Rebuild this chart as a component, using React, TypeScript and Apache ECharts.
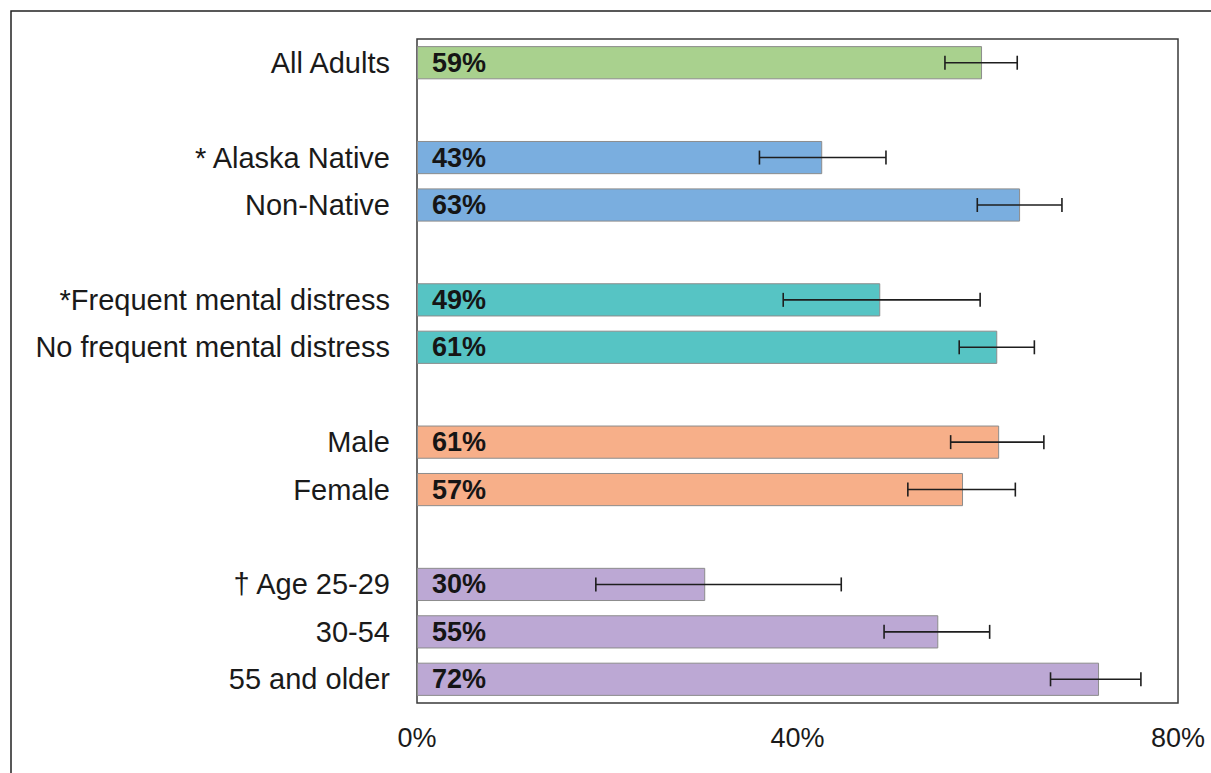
import React, { useEffect, useRef } from "react";
import * as echarts from "echarts";

// Rows (blank strings are spacer rows between groups)
const categories = [
  "All Adults",
  " ",
  "* Alaska Native",
  "Non-Native",
  "  ",
  "*Frequent mental distress",
  "No frequent mental distress",
  "   ",
  "Male",
  "Female",
  "    ",
  "† Age 25-29",
  "30-54",
  "55 and older",
];
const values = [59.4, null, 42.6, 63.4, null, 48.7, 61.0, null, 61.2, 57.4, null, 30.3, 54.8, 71.7];
const lowCI = [55.5, null, 36.0, 58.9, null, 38.5, 57.0, null, 56.1, 51.6, null, 18.8, 49.1, 66.6];
const highCI = [63.1, null, 49.3, 67.8, null, 59.2, 64.9, null, 65.9, 62.9, null, 44.6, 60.2, 76.1];
const groupOfRow = [0, -1, 1, 1, -1, 2, 2, -1, 3, 3, -1, 4, 4, 4];
const groupColors = ["#A9D18E", "#7AAEDF", "#56C4C4", "#F7AF89", "#BCA8D4"];
const xTicks = { min: 0, max: 80, interval: 40 };

const FONT = "'Liberation Sans', Arial, sans-serif";

export default function App() {
  const ref = useRef<HTMLDivElement>(null);
  useEffect(() => {
    if (!ref.current) return;
    const chart = echarts.init(ref.current, null, { renderer: "svg" });

    const barData = values.map((v, i) =>
      v == null
        ? null
        : {
            value: v,
            itemStyle: { color: groupColors[groupOfRow[i]] },
          }
    );
    const errData: number[][] = [];
    values.forEach((v, i) => {
      if (v != null && lowCI[i] != null && highCI[i] != null) {
        errData.push([i, lowCI[i] as number, highCI[i] as number]);
      }
    });

    chart.setOption({
      animation: false,
      backgroundColor: "#ffffff",
      textStyle: { fontFamily: FONT },
      graphic: [
        {
          type: "rect",
          silent: true,
          shape: { x: 11, y: 11, width: 1300, height: 900 },
          style: { fill: "none", stroke: "#222222", lineWidth: 1.5 },
        },
      ],
      grid: {
        left: 417,
        right: 33,
        top: 39,
        bottom: 70,
        show: true,
        borderColor: "#3a3a3a",
        borderWidth: 1.5,
        backgroundColor: "transparent",
        containLabel: false,
      },
      xAxis: {
        type: "value",
        min: xTicks.min,
        max: xTicks.max,
        interval: xTicks.interval,
        axisLine: { show: false },
        axisTick: { show: false },
        splitLine: { show: false },
        axisLabel: {
          formatter: "{value}%",
          fontSize: 27,
          color: "#1a1a1a",
          fontFamily: FONT,
          margin: 21,
        },
      },
      yAxis: {
        type: "category",
        inverse: true,
        data: categories,
        axisLine: { show: false },
        axisTick: { show: false },
        splitLine: { show: false },
        axisLabel: {
          fontSize: 29,
          color: "#1a1a1a",
          fontFamily: FONT,
          margin: 27,
        },
      },
      series: [
        {
          type: "bar",
          data: barData,
          barCategoryGap: "30%",
          itemStyle: { borderColor: "#8c8c8c", borderWidth: 1 },
          label: {
            show: true,
            position: "insideLeft",
            distance: 15,
            formatter: (p: any) => Math.round(p.value) + "%",
            fontSize: 27,
            fontWeight: "bold",
            color: "#151515",
            fontFamily: FONT,
          },
          z: 2,
        },
        {
          type: "custom",
          data: errData,
          encode: { x: [1, 2], y: 0 },
          z: 5,
          renderItem: (params: any, api: any) => {
            const idx = api.value(0);
            const lo = api.coord([api.value(1), idx]);
            const hi = api.coord([api.value(2), idx]);
            const h = 7;
            const style = { stroke: "#1e1e1e", lineWidth: 1.6 };
            return {
              type: "group",
              children: [
                { type: "line", shape: { x1: lo[0], y1: lo[1], x2: hi[0], y2: hi[1] }, style },
                { type: "line", shape: { x1: lo[0], y1: lo[1] - h, x2: lo[0], y2: lo[1] + h }, style },
                { type: "line", shape: { x1: hi[0], y1: hi[1] - h, x2: hi[0], y2: hi[1] + h }, style },
              ],
            };
          },
        },
      ],
    });
    return () => chart.dispose();
  }, []);
  return (
    <div
      ref={ref}
      style={{ position: "absolute", left: 0, top: 0, width: 1211, height: 773 }}
    />
  );
}
